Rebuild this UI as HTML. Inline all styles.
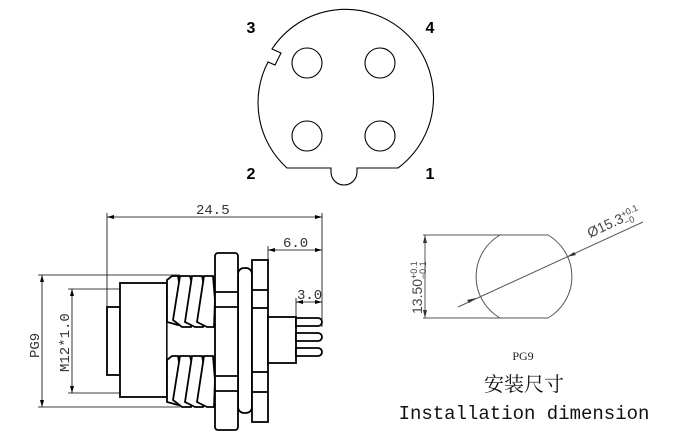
<!DOCTYPE html>
<html><head><meta charset="utf-8"><style>
html,body{margin:0;padding:0;background:#fff;width:680px;height:440px;overflow:hidden}
svg{display:block}
</style></head><body>
<svg width="680" height="440" viewBox="0 0 680 440" xmlns="http://www.w3.org/2000/svg">
<g fill="none" stroke="#000" stroke-width="1.1">
<path d="M287,167 A88,88 0 0 1 268,61 L275,64 L281,52 L272,48 A88,88 0 1 1 398,167 L357,167 L357,171 A13,13 0 0 1 331,171 L331,167 Z" transform="translate(0,1)"/>
<circle cx="307" cy="63" r="15"/><circle cx="380" cy="63" r="15"/>
<circle cx="307" cy="136" r="15"/><circle cx="380" cy="136" r="15"/>
</g>
<g font-family="Liberation Sans, sans-serif" font-weight="bold" font-size="16" text-anchor="middle">
<text x="251" y="33">3</text><text x="430" y="33">4</text>
<text x="251" y="179">2</text><text x="430" y="179">1</text>
</g>

<g fill="none" stroke="#000" stroke-width="0.8">
<line x1="107" y1="217" x2="322" y2="217"/><line x1="107" y1="213" x2="107" y2="307"/><line x1="322" y1="213" x2="322" y2="327"/>
<line x1="268" y1="250" x2="322" y2="250"/><line x1="268" y1="246" x2="268" y2="260"/>
<line x1="296" y1="302" x2="322" y2="302"/><line x1="296" y1="298" x2="296" y2="317"/>
<line x1="42" y1="275" x2="42" y2="407"/><line x1="38" y1="275" x2="180" y2="275"/><line x1="38" y1="407" x2="180" y2="407"/>
<line x1="72" y1="289" x2="72" y2="393"/><line x1="68" y1="289" x2="120" y2="289"/><line x1="68" y1="393" x2="120" y2="393"/>
</g>
<g fill="#000">
<path d="M107,217 l7,-2 v4z"/><path d="M322,217 l-7,-2 v4z"/>
<path d="M268,250 l7,-2 v4z"/><path d="M322,250 l-7,-2 v4z"/>
<path d="M296,302 l7,-2 v4z"/><path d="M322,302 l-7,-2 v4z"/>
<path d="M42,275 l-2,7 h4z"/><path d="M42,407 l-2,-7 h4z"/>
<path d="M72,289 l-2,7 h4z"/><path d="M72,393 l-2,-7 h4z"/>
</g>
<g font-family="Liberation Mono, monospace" font-size="14" fill="#333">
<text x="196" y="214">24.5</text>
<text x="283" y="247">6.0</text>
<text x="297" y="299">3.0</text>
<text transform="translate(39,358) rotate(-90)">PG9</text>
<text transform="translate(69,372) rotate(-90)">M12*1.0</text>
</g>
<g fill="#fff" stroke="#000" stroke-width="1.8">
<rect x="107" y="307" width="13" height="68"/>
<rect x="120" y="283" width="47" height="114"/>
<rect x="167" y="285" width="48" height="110" stroke-width="1.2"/>
<path d="M167,280 L172,276 L178,276 L182,300 L178,325 L167,322 Z"/>
<path d="M173,320 L180,276 L190,276 L196,300 L191,327 L182,327 Z"/>
<path d="M185,322 L192,276 L202,276 L207,300 L203,327 L195,327 Z"/>
<path d="M197,322 L204,276 L213,276 L215,300 L214,327 L207,327 Z"/>
<path d="M167,360 L172,356 L178,356 L182,380 L178,405 L167,402 Z"/>
<path d="M173,400 L180,356 L190,356 L196,380 L191,407 L182,407 Z"/>
<path d="M185,402 L192,356 L202,356 L207,380 L203,407 L195,407 Z"/>
<path d="M197,402 L204,356 L213,356 L215,380 L214,407 L207,407 Z"/>
<rect x="238" y="268" width="14" height="145" rx="6"/>
<rect x="215" y="253" width="23" height="177" rx="3"/>
<line x1="215" y1="292" x2="238" y2="292"/><line x1="215" y1="307" x2="238" y2="307"/>
<line x1="215" y1="376" x2="238" y2="376"/><line x1="215" y1="391" x2="238" y2="391"/>
<rect x="252" y="260" width="16" height="162"/>
<line x1="252" y1="290" x2="268" y2="290"/><line x1="252" y1="308" x2="268" y2="308"/>
<line x1="252" y1="372" x2="268" y2="372"/><line x1="252" y1="392" x2="268" y2="392"/>
<rect x="268" y="317" width="28" height="46"/>
<path d="M296,318 H318 A4,4 0 0 1 318,326 H296 Z"/>
<path d="M296,333 H318 A4,4 0 0 1 318,341 H296 Z"/>
<path d="M296,348 H318 A4,4 0 0 1 318,356 H296 Z"/>
</g>

<g fill="none" stroke="#555" stroke-width="1">
<line x1="423" y1="235" x2="500" y2="235"/><line x1="423" y1="318" x2="500" y2="318"/>
<path d="M500,235 L548,235 A48,48 0 0 1 548,318 L500,318 A48,48 0 0 1 500,235 Z"/>
<line x1="425" y1="235" x2="425" y2="318"/>
<line x1="458" y1="307" x2="643" y2="222"/>
</g>
<g fill="#333">
<path d="M425,235 l-2,8 h4z"/><path d="M425,318 l-2,-8 h4z"/>
<path d="M476,298 l-9,2 l2,3z"/><path d="M567,257 l9,-2 l-2,-3z"/>
</g>
<g font-family="Liberation Sans, sans-serif" fill="#444" font-size="14">
<text transform="translate(422,314) rotate(-90)">13.50<tspan font-size="9" dy="-5">+0.1</tspan><tspan font-size="9" dx="-18" dy="9">−0.1</tspan></text>
<text transform="translate(590,238) rotate(-25)">Ø15.3<tspan font-size="9" dy="-5">+0.1</tspan><tspan font-size="9" dx="-18" dy="9">−0</tspan></text>
</g>
<text x="523" y="360" font-family="Liberation Serif, serif" font-size="12" text-anchor="middle" fill="#222">PG9</text>
<text x="524" y="391" font-family="Liberation Serif, 'Noto Serif CJK SC', serif" font-size="20" text-anchor="middle" fill="#111">安装尺寸</text>
<text x="524" y="419" font-family="Liberation Mono, monospace" font-size="19" text-anchor="middle" fill="#111">Installation dimension</text>
</svg>
</body></html>
